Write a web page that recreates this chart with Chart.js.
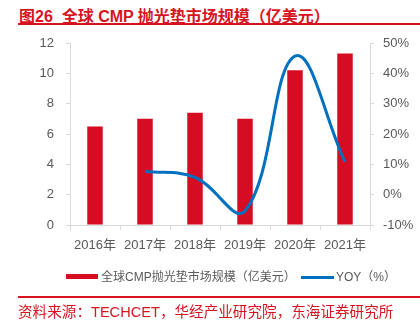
<!DOCTYPE html>
<html>
<head>
<meta charset="utf-8">
<script src="https://cdn.jsdelivr.net/npm/chart.js@4/dist/chart.umd.min.js"></script>
<style>
  html, body { margin: 0; padding: 0; background: #fff; }
  body { width: 420px; height: 321px; position: relative; overflow: hidden;
         font-family: "Liberation Sans", "Noto Sans CJK SC", sans-serif; }
  #title { position: absolute; left: 19px; top: 3px; font-size: 16px; font-weight: bold;
           color: #d7141f; white-space: nowrap; }
  .rule { position: absolute; left: 18px; right: 0; height: 2px; background: #d7141f; }
  #legend { position: absolute; top: 268px; left: 0; width: 420px; height: 18px;
            font-size: 12px; color: #595959; white-space: nowrap; }
  #legend span { position: absolute; top: 0; line-height: 18px; }
  #legend i { position: absolute; display: block; }
  #source { position: absolute; left: 18px; top: 300px; font-size: 14.6px; color: #d7141f;
            white-space: nowrap; }
  #wrap { position: absolute; left: 0; top: 0; width: 420px; height: 321px; }
  canvas { display: block; }
</style>
</head>
<body>
<div id="title">图26&nbsp;&nbsp;全球 CMP 抛光垫市场规模（亿美元）</div>
<div class="rule" style="top:23px"></div>
<div id="wrap"><canvas id="c" width="420" height="321"></canvas></div>
<div id="legend"></div>
<div class="rule" style="top:296px"></div>
<div id="source">资料来源：TECHCET，华经产业研究院，东海证券研究所</div>
<script>
var years = ["2016年", "2017年", "2018年", "2019年", "2020年", "2021年"];
var marketSize = [6.5, 7.0, 7.4, 7.0, 10.2, 11.3];
var yoy = [null, 7.7, 5.7, -5.4, 45.7, 10.8];
var sizeLabel = "全球CMP抛光垫市场规模（亿美元）";
var yoyLabel = "YOY（%）";

var red = "#d50c22";
var blue = "#0070c0";
var grey = "#595959";
var axisGrey = "#d9d9d9";
var font = { family: "'Liberation Sans', 'Noto Sans CJK SC', sans-serif", size: 13 };

var ctx = document.getElementById("c").getContext("2d");
var chart = new Chart(ctx, {
  type: "bar",
  data: {
    labels: years,
    datasets: [{
      type: "line",
      label: yoyLabel,
      data: yoy,
      yAxisID: "y1",
      borderColor: blue,
      borderWidth: 3,
      tension: 0.4,
      pointRadius: 0,
      fill: false,
      clip: false,
      order: 0
    }, {
      label: sizeLabel,
      data: marketSize,
      yAxisID: "y",
      backgroundColor: red,
      barPercentage: 0.31,
      categoryPercentage: 1,
      order: 1
    }]
  },
  options: {
    responsive: false,
    animation: false,
    layout: { padding: { top: 43, left: 0, right: 0, bottom: 0 } },
    plugins: { legend: { display: false }, tooltip: { enabled: false } },
    scales: {
      x: {
        grid: { offset: true, drawOnChartArea: false, tickLength: 5, color: axisGrey },
        border: { color: axisGrey, width: 1 },
        ticks: { color: grey, font: font, padding: 8, maxRotation: 0 },
        afterFit: function (s) { s.height = 96; }
      },
      y: {
        position: "left",
        min: 0, max: 12,
        ticks: { stepSize: 2, color: grey, font: font, padding: 12 },
        grid: { drawOnChartArea: false, tickLength: 4, color: axisGrey },
        border: { color: axisGrey },
        afterFit: function (s) { s.width = 70; }
      },
      y1: {
        position: "right",
        min: -10, max: 50,
        ticks: { stepSize: 10, color: grey, font: font, padding: 9,
                 callback: function (v) { return v + "%"; } },
        grid: { drawOnChartArea: false, tickLength: 4, color: axisGrey },
        border: { color: axisGrey },
        afterFit: function (s) { s.width = 50; }
      }
    }
  }
});

// legend entries
var legend = document.getElementById("legend");
legend.innerHTML =
  '<i style="left:66px;top:6px;width:32px;height:5px;background:' + red + '"></i>' +
  '<span style="left:101px">' + sizeLabel + '</span>' +
  '<i style="left:301px;top:8px;width:33px;height:3px;background:' + blue + '"></i>' +
  '<span style="left:336px">' + yoyLabel + '</span>';
</script>
</body>
</html>
